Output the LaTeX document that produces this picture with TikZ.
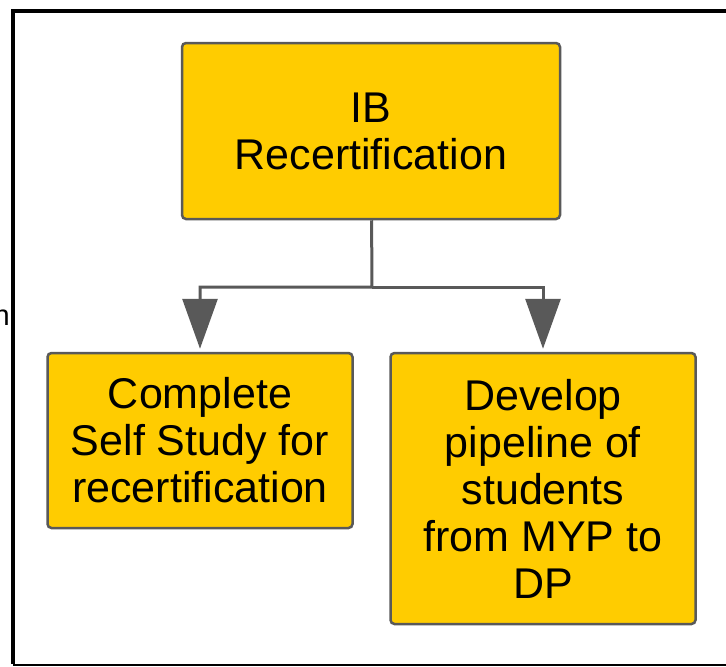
\documentclass[tikz,border=0pt]{standalone}
\usepackage{fontspec}
\setmainfont{Liberation Sans}
\usetikzlibrary{arrows.meta}
\definecolor{boxfill}{HTML}{FFCC00}
\definecolor{boxline}{HTML}{595959}

\begin{document}
\begin{tikzpicture}[x=1pt,y=-1pt,
        task/.style={draw=boxline,line width=2.5pt,fill=boxfill,rounded corners=4pt,
            align=center,inner sep=0pt,font=\fontsize{43pt}{47pt}\selectfont},
        link/.style={-{Triangle[length=50pt,width=35pt]},line width=3pt,draw=boxline,shorten >=3pt}
    ]
        \useasboundingbox (0,0) rectangle (726,667);
        % Frame and stray letter
        \draw[line width=3.5pt] (726,11) -- (13,11) -- (13,664);
        \draw[line width=2pt] (13,665) -- (726,665);
        \node[anchor=base east,inner sep=0pt,font=\fontsize{29pt}{33pt}\selectfont] (stray) at (10,325) {n};

        % Define the nodes
        \node[task,minimum width=378pt,minimum height=176pt] (top) at (371,131) {IB\\Recertification};
        \node[task,minimum width=305pt,minimum height=175pt] (left) at (200,440.5) {Complete\\Self Study for\\recertification};
        \node[task,minimum width=305pt,minimum height=271pt] (right) at (543,488.5) {Develop\\pipeline of\\students\\from MYP to\\DP};
        \coordinate (split) at (372,287);

        % Draw the connectors
        \draw [link] (top) -- (split) -| (left);
        \draw [link] (split) -| (right);
    \end{tikzpicture}
\end{document}
